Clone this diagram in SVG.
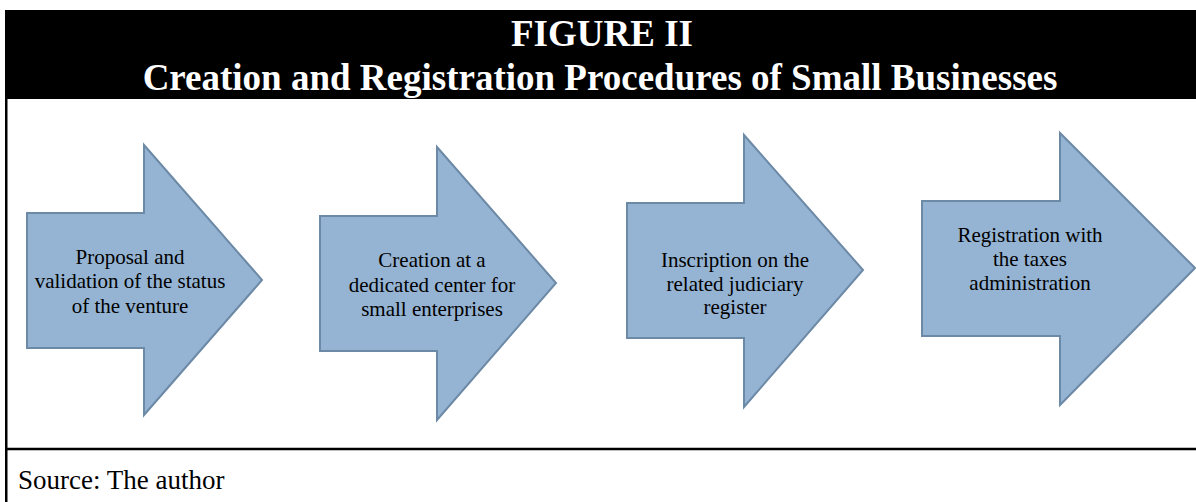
<svg xmlns="http://www.w3.org/2000/svg" width="1196" height="502" viewBox="0 0 1196 502">
<style>
.arrow{fill:#95B4D3;stroke:#6C89A6;stroke-width:2;stroke-linejoin:miter}
.lbl{font-family:"Liberation Serif","Times New Roman",serif;font-size:21px;fill:#000;text-anchor:middle}
.title{font-family:"Liberation Serif","Times New Roman",serif;font-size:37px;font-weight:bold;fill:#fff;text-anchor:middle}
.src{font-family:"Liberation Serif","Times New Roman",serif;font-size:27px;fill:#000}
.rule{stroke:#000;stroke-width:2.5;fill:none}
</style>
<rect x="0" y="0" width="1196" height="502" fill="#fff"/>
<g id="header">
<rect x="5" y="10" width="1191" height="89" fill="#000"/>
<text class="title" x="602" y="46">FIGURE II</text>
<text class="title" x="600" y="90">Creation and Registration Procedures of Small Businesses</text>
</g>
<g id="frame">
<line class="rule" x1="6.25" y1="10" x2="6.25" y2="502"/>
<line class="rule" x1="5" y1="449" x2="1196" y2="449"/>
</g>
<g id="connectors"></g>
<g id="step1">
<polygon class="arrow" points="27,213 144,213 144,145 262,280 144,415 144,348 27,348"/>
<text class="lbl" x="130" y="264">Proposal and</text>
<text class="lbl" x="130" y="288">validation of the status</text>
<text class="lbl" x="130" y="313">of the venture</text>
</g>
<g id="step2">
<polygon class="arrow" points="320,216 437,216 437,147 556,283 437,420 437,351 320,351"/>
<text class="lbl" x="432" y="267">Creation at a</text>
<text class="lbl" x="432" y="292">dedicated center for</text>
<text class="lbl" x="432" y="316">small enterprises</text>
</g>
<g id="step3">
<polygon class="arrow" points="627,203 744,203 744,135 863,270 744,407 744,338 627,338"/>
<text class="lbl" x="735" y="267">Inscription on the</text>
<text class="lbl" x="735" y="291">related judiciary</text>
<text class="lbl" x="735" y="314">register</text>
</g>
<g id="step4">
<polygon class="arrow" points="922,201 1060,201 1060,133 1195,268 1060,405 1060,336 922,336"/>
<text class="lbl" x="1030" y="242">Registration with</text>
<text class="lbl" x="1030" y="266">the taxes</text>
<text class="lbl" x="1030" y="290">administration</text>
</g>
<g id="source">
<text class="src" x="18" y="489">Source: The author</text>
</g>
</svg>
